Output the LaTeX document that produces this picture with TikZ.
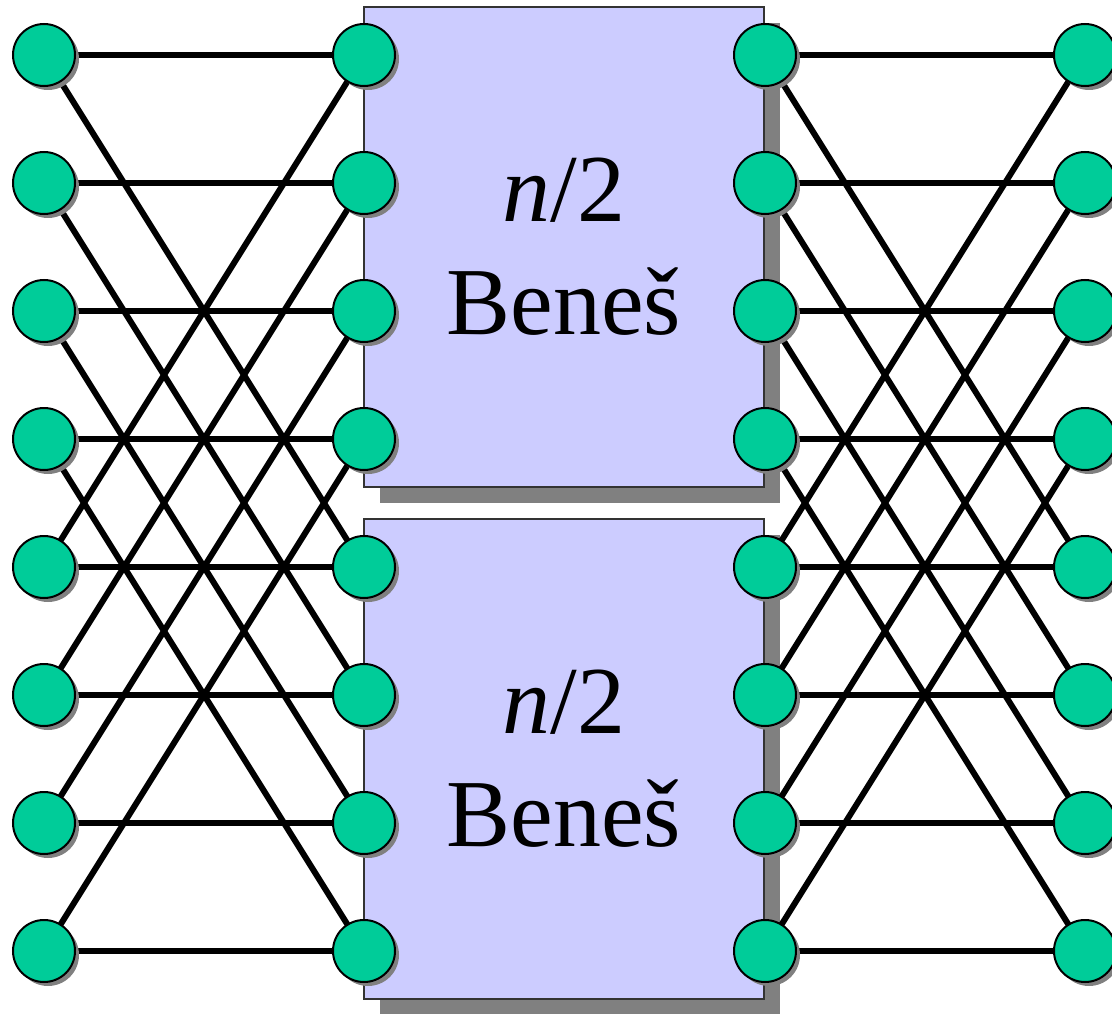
\documentclass[tikz,border=0pt]{standalone}
\usepackage{fontspec}
\setmainfont{Liberation Serif}
\newfontfamily\timesfont{Liberation Serif}
\usetikzlibrary{shadows}
\definecolor{nodegreen}{RGB}{0,204,153}
\definecolor{boxblue}{RGB}{204,204,255}
\definecolor{shadowgray}{RGB}{128,128,128}
\definecolor{boxline}{RGB}{51,51,51}
\pgfdeclarelayer{boxes}
\pgfdeclarelayer{wires}
\pgfsetlayers{boxes,wires,main}
\begin{document}
\begin{tikzpicture}[x=1pt,y=-1pt,
  sw/.style={circle, draw=black, line width=2pt, fill=nodegreen, minimum size=62pt, inner sep=0pt,
    drop shadow={shadow xshift=4pt, shadow yshift=-4pt, fill=shadowgray, opacity=1}},
  subnet/.style={rectangle, draw=boxline, line width=1.5pt, fill=boxblue, minimum width=400pt, minimum height=480pt,
    inner sep=0pt, align=center, font=\timesfont\fontsize{96}{113}\selectfont,
    drop shadow={shadow xshift=16pt, shadow yshift=-16pt, fill=shadowgray, opacity=1}},
  wire/.style={line width=6pt, black}]
\useasboundingbox (0,0) rectangle (1112,1014);
\begin{pgfonlayer}{boxes}
  \node[subnet] (top) at (564,247) {{\itshape n}/2\\Beneš};
  \node[subnet] (bot) at (564,759) {{\itshape n}/2\\Beneš};
\end{pgfonlayer}
\foreach \i in {0,...,7}{
  \node[sw] (L\i) at (44,55+128*\i) {};
  \node[sw] (A\i) at (364,55+128*\i) {};
  \node[sw] (B\i) at (765,55+128*\i) {};
  \node[sw] (R\i) at (1085,55+128*\i) {};
}
\begin{pgfonlayer}{wires}
\foreach \i in {0,...,7}{
  \pgfmathtruncatemacro\j{mod(\i+4,8)}
  \draw[wire] (L\i.center) -- (A\i.center);
  \draw[wire] (L\i.center) -- (A\j.center);
  \draw[wire] (B\i.center) -- (R\i.center);
  \draw[wire] (B\i.center) -- (R\j.center);
}
\end{pgfonlayer}
\end{tikzpicture}
\end{document}
